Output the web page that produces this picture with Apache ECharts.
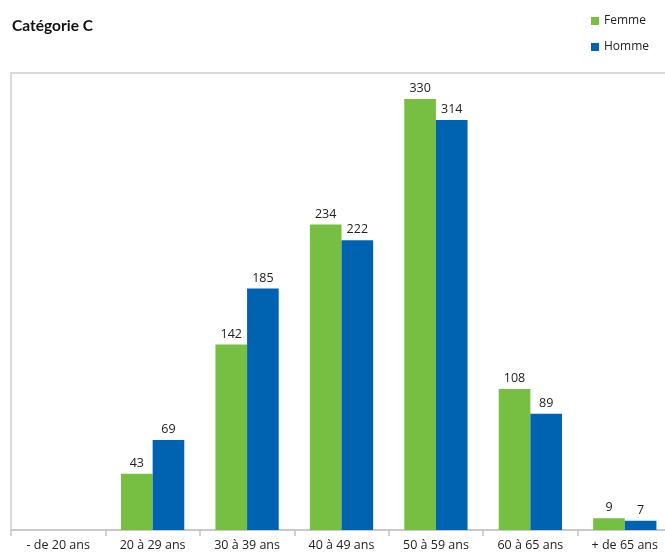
<!DOCTYPE html>
<html>
<head>
<meta charset="utf-8">
<script src="https://cdn.jsdelivr.net/npm/echarts@6/dist/echarts.min.js"></script>
<style>
  html, body { margin: 0; padding: 0; background: #fff; }
  #chart { width: 665px; height: 554px; }
</style>
</head>
<body>
<div id="chart"></div>
<script>
// Age brackets along the horizontal axis
const ageGroups = ['- de 20 ans', '20 à 29 ans', '30 à 39 ans', '40 à 49 ans', '50 à 59 ans', '60 à 65 ans', '+ de 65 ans'];
// Headcount per bracket (null = no value shown)
const femme = [null, 43, 142, 234, 330, 108, 9];
const homme = [null, 69, 185, 222, 314, 89, 7];

const FONT = '"Open Sans", "Noto Sans", sans-serif';
const chart = echarts.init(document.getElementById('chart'));

const barLabel = {
  show: true,
  position: 'top',
  distance: 4,
  color: '#222',
  fontSize: 12.5,
  fontFamily: FONT
};

chart.setOption({
  animation: false,
  title: {
    text: 'Catégorie C',
    left: 7,
    top: 13,
    textStyle: { fontFamily: 'Lato, "Open Sans", sans-serif', fontSize: 15.5, fontWeight: 'bold', color: '#111' }
  },
  legend: {
    orient: 'vertical',
    left: 586,
    top: 10,
    itemWidth: 8,
    itemHeight: 8,
    itemGap: 14,
    icon: 'rect',
    textStyle: { fontFamily: FONT, fontSize: 12, color: '#222' },
    data: ['Femme', 'Homme']
  },
  grid: {
    left: 11,
    width: 661,
    top: 73,
    bottom: 24,
    show: true,
    borderColor: '#d9d9d9',
    borderWidth: 2,
    containLabel: false,
    outerBoundsMode: 'none'
  },
  xAxis: {
    type: 'category',
    data: ageGroups,
    axisLine: { lineStyle: { color: '#c4c4c4', width: 1.5 } },
    axisTick: { show: true, length: 6, lineStyle: { color: '#c4c4c4', width: 1.5 } },
    axisLabel: { fontFamily: FONT, fontSize: 12.5, color: '#222', margin: 9 }
  },
  yAxis: {
    type: 'value',
    min: 0,
    max: 350,
    show: false,
    splitLine: { show: false }
  },
  series: [
    {
      name: 'Femme',
      type: 'bar',
      data: femme,
      barGap: '0%',
      barCategoryGap: '33%',
      itemStyle: { color: '#77BF43' },
      label: barLabel
    },
    {
      name: 'Homme',
      type: 'bar',
      data: homme,
      itemStyle: { color: '#0063B1' },
      label: barLabel
    }
  ]
});
</script>
</body>
</html>
